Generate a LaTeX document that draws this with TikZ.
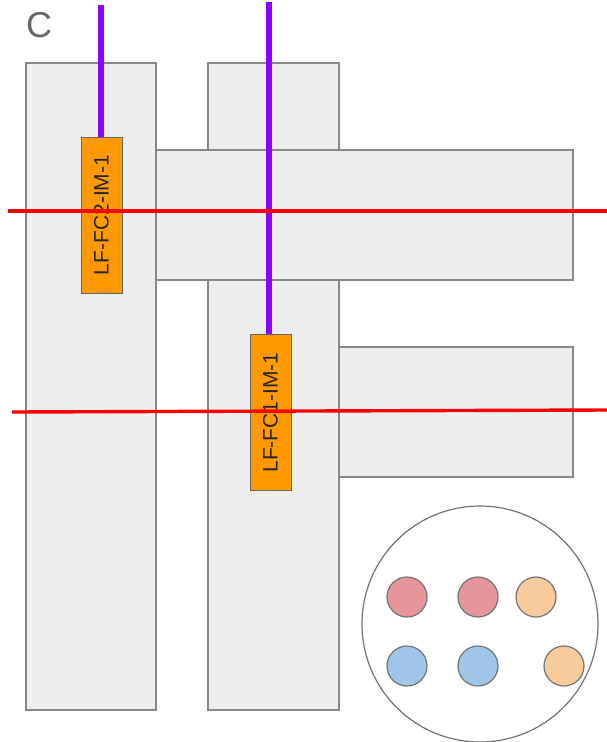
\documentclass[tikz,border=0pt]{standalone}
\usepackage{fontspec}
\setmainfont{Liberation Sans}
\definecolor{panel}{HTML}{EEEEEE}
\definecolor{panelline}{HTML}{888888}
\definecolor{probe}{HTML}{FF9900}
\definecolor{fiber}{HTML}{8F00FF}
\definecolor{cutline}{HTML}{FF0000}
\definecolor{dotred}{HTML}{E6969B}
\definecolor{dotorange}{HTML}{F9CB9C}
\definecolor{dotblue}{HTML}{9FC5E8}
\begin{document}
\begin{tikzpicture}[x=1pt,y=-1pt,
  slab/.style={draw=panelline,fill=panel,line width=1.2pt},
  probebox/.style={draw=black!60,fill=probe,line width=0.8pt,minimum width=41pt,minimum height=156pt,inner sep=0pt,
    font=\fontsize{21}{21}\selectfont,text=black!85},
  fiberline/.style={draw=fiber,line width=5.5pt},
  cut/.style={draw=cutline,line width=3.4pt},
  dot/.style={circle,draw=black!55,line width=1.2pt,minimum size=40pt,inner sep=0pt}]
\useasboundingbox (0,0) rectangle (607,742);
% panel label
\node[text=black!60,font=\fontsize{36}{36}\selectfont,anchor=center] (lbl) at (39,25) {C};
% tissue slabs
\draw[slab] (26,63) rectangle (156,710);
\draw[slab] (208,63) rectangle (339,710);
\draw[slab] (156,150) rectangle (573,280);
\draw[slab] (339,347) rectangle (573,477);
% implants
\node[probebox] (im2) at (101.5,215) {\rotatebox{90}{LF-FC2-IM-1}};
\node[probebox] (im1) at (270.5,412.5) {\rotatebox{90}{LF-FC1-IM-1}};
\coordinate (f2top) at (101,5);
\coordinate (f1top) at (269,2);
\draw[fiberline] (f2top) -- (im2.north -| f2top);
\draw[fiberline] (f1top) -- (im1.north -| f1top);
% cutting planes
\coordinate (c1a) at (8,211);
\coordinate (c1b) at (607,211);
\coordinate (c2a) at (12,412);
\coordinate (c2b) at (607,410);
\draw[cut] (c1a) -- (c1b);
\draw[cut] (c2a) -- (c2b);
% legend inset
\node[circle,draw=black!55,line width=1.2pt,fill=white,minimum size=236pt,inner sep=0pt] (inset) at (480,624) {};
\node[dot,fill=dotred] (r1) at (407,597) {};
\node[dot,fill=dotred] (r2) at (478,597) {};
\node[dot,fill=dotorange] (o1) at (536,597) {};
\node[dot,fill=dotblue] (b1) at (407,666) {};
\node[dot,fill=dotblue] (b2) at (478,666) {};
\node[dot,fill=dotorange] (o2) at (564,666) {};
\end{tikzpicture}
\end{document}
